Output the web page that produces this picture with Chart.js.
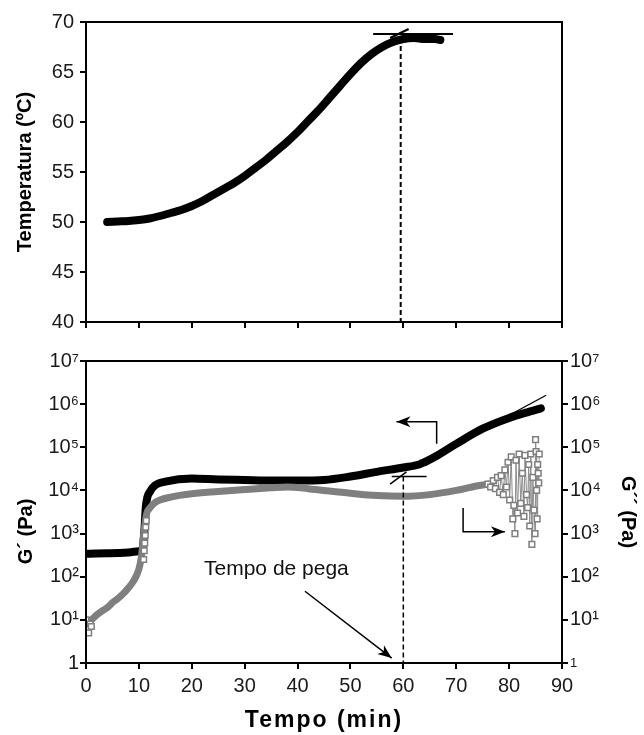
<!DOCTYPE html>
<html>
<head>
<meta charset="utf-8">
<title>Temperatura, G´ e G´´ x Tempo</title>
<script src="https://cdn.jsdelivr.net/npm/chart.js@4.4.1/dist/chart.umd.min.js"></script>
<style>
  body { margin: 0; background: #fff; }
  .wrap { position: relative; width: 644px; height: 735px; }
  #tempChart { position: absolute; left: 0; top: 0; }
  #modChart { position: absolute; left: 0; top: 340px; }
</style>
</head>
<body>
<div class="wrap">
  <canvas id="tempChart" width="644" height="340"></canvas>
  <canvas id="modChart" width="644" height="395"></canvas>
</div>
<script>
/* Data start */

const timeTicks = [0, 10, 20, 30, 40, 50, 60, 70, 80, 90]
const logTicks = [1, 10, 100, 1000, 10000, 100000, 1000000, 10000000]
const logTickLabels = ['1', '10¹', '10²', '10³', '10⁴', '10⁵', '10⁶', '10⁷']

// temperature (top panel)
const tempTime = [4, 6, 8, 10, 12, 14, 16, 18, 20, 22, 24, 26, 28, 30, 32, 34, 36, 38, 40, 42, 44, 46, 48, 50, 52, 54, 56, 58, 60, 62, 64, 66, 67]
const tempValue = [50.0, 50.05, 50.1, 50.2, 50.35, 50.6, 50.9, 51.2, 51.6, 52.1, 52.7, 53.3, 53.9, 54.6, 55.4, 56.2, 57.1, 58.0, 59.0, 60.1, 61.2, 62.4, 63.6, 64.8, 65.9, 66.8, 67.5, 68.0, 68.3, 68.4, 68.3, 68.3, 68.2]

// G' (storage modulus)
const gpTime = [0, 2, 4, 6, 8, 10, 10.6, 11.0, 11.3, 11.6, 12, 13, 15, 20, 25, 30, 35, 40, 45, 50, 55, 60, 63, 64, 66, 70, 75, 80, 84, 86]
const gpValue = [340, 345, 350, 355, 365, 390, 420, 1000, 4000, 7000, 9000, 13000, 16000, 19000, 18000, 17500, 17000, 17000, 17500, 21000, 27000, 34000, 40000, 45000, 60000, 120000, 270000, 480000, 680000, 800000]

// G'' (loss modulus), dense part
const gppTime = [0, 1, 2, 3, 4, 5, 6, 7, 8, 9, 10, 10.5, 11, 11.5, 12, 13, 14, 16, 18, 20, 25, 30, 35, 38, 42, 45, 50, 55, 60, 65, 70, 73, 76]
const gppValue = [9, 10, 13, 16, 19, 25, 31, 40, 55, 80, 150, 300, 1200, 3000, 3800, 5200, 6000, 7000, 7800, 8400, 9500, 10500, 11500, 12000, 11000, 10000, 8600, 7600, 7300, 8000, 10000, 12000, 14000]

// G'' single squares at the start and at the jump
const gppDotTime = [0, 0.2, 0.5, 0.8, 1.0, 10.9, 11.0, 11.1, 11.2, 11.3, 11.4]
const gppDotValue = [10, 6, 5, 8, 7, 250, 400, 600, 900, 1400, 2000]

// G'' scattered tail
const tailTime = [76.0, 76.5, 77.0, 77.4, 77.8, 78.2, 78.5, 78.9, 79.2, 79.5, 79.8, 80.1, 80.4, 80.7, 80.9, 81.1, 81.3, 81.6, 81.9, 82.2, 82.5, 82.8, 83.0, 83.3, 83.5, 83.7, 83.9, 84.1, 84.3, 84.5, 84.7, 84.9, 85.0, 85.1, 85.2, 85.3, 85.4, 85.5, 85.6, 85.7]
const tailValue = [14000, 12000, 17000, 11000, 20000, 9000, 22000, 8000, 30000, 12000, 45000, 6000, 60000, 2200, 4500, 1000, 50000, 3000, 70000, 5000, 25000, 2500, 65000, 8000, 4000, 40000, 1500, 70000, 560, 20000, 3500, 1000, 150000, 80000, 10000, 2200, 40000, 25000, 15000, 70000]

// guide lines (top panel)
const topFlatTime = [54.3, 69.4]
const topFlatValue = [68.8, 68.8]
const topSlantTime = [57.5, 61]
const topSlantValue = [68.4, 69.3]
const topDashTime = [59.5, 59.5]
const topDashValue = [68.4, 40]

// guide lines (bottom panel)
const tangentTime = [70, 87]
const tangentValue = [120000, 1600000]
const gelFlatTime = [57.8, 64.4]
const gelFlatValue = [21000, 21000]
const gelSlantTime = [57.5, 60.6]
const gelSlantValue = [14000, 27000]
const gelDashTime = [60, 60]
const gelDashValue = [21000, 1]
const leftArrowTime = [66.3, 66.3, 58.7]
const leftArrowValue = [120000, 390000, 390000]
const rightArrowTime = [71.3, 71.3, 79.2]
const rightArrowValue = [3900, 1100, 1100]
const noteArrowTime = [41.4, 57.8]
const noteArrowValue = [46, 1.3]
const noteText = 'Tempo de pega'
const noteTime = 36
const noteValue = 150

/* Data end */

Chart.defaults.font.family = '"Liberation Sans", Arial, sans-serif'
Chart.defaults.color = '#1a1a1a'

const xy = (xs, ys) => xs.map((x, i) => ({ x: x, y: ys[i] }))

const guide = (xs, ys, extra) => Object.assign({
  data: xy(xs, ys),
  showLine: true,
  pointRadius: 0,
  borderColor: '#000',
  borderWidth: 1.5,
  order: 0
}, extra)

/* Plugins */

const boxPlugin = {
  id: 'box',
  afterDatasetsDraw(chart) {
    const a = chart.chartArea
    const ctx = chart.ctx
    ctx.save()
    ctx.strokeStyle = '#000'
    ctx.lineWidth = 2
    ctx.strokeRect(a.left, a.top, a.right - a.left, a.bottom - a.top)
    ctx.restore()
  }
}

const arrowPlugin = {
  id: 'arrows',
  afterDatasetsDraw(chart) {
    const ctx = chart.ctx
    chart.data.datasets.forEach((ds, i) => {
      if (!ds.arrowEnd) return
      const pts = chart.getDatasetMeta(i).data
      const p1 = pts[pts.length - 2]
      const p2 = pts[pts.length - 1]
      const ang = Math.atan2(p2.y - p1.y, p2.x - p1.x)
      ctx.save()
      ctx.translate(p2.x, p2.y)
      ctx.rotate(ang)
      ctx.beginPath()
      ctx.moveTo(0, 0)
      ctx.lineTo(-14, -5.5)
      ctx.lineTo(-10, 0)
      ctx.lineTo(-14, 5.5)
      ctx.closePath()
      ctx.fillStyle = '#000'
      ctx.fill()
      ctx.restore()
    })
  }
}

const notePlugin = {
  id: 'note',
  afterDatasetsDraw(chart) {
    const ctx = chart.ctx
    const x = chart.scales.x.getPixelForValue(noteTime)
    const y = chart.scales.y.getPixelForValue(noteValue)
    ctx.save()
    ctx.font = '21px "Liberation Sans", Arial, sans-serif'
    ctx.fillStyle = '#111'
    ctx.textAlign = 'center'
    ctx.textBaseline = 'middle'
    ctx.fillText(noteText, x, y)
    ctx.restore()
  }
}

// the x title in the original is spaced out a bit
const spacedTitlePlugin = {
  id: 'spacedTitle',
  beforeDraw(chart) {
    const xs = chart.scales.x
    if (xs._spaced) return
    const orig = xs.drawTitle.bind(xs)
    xs.drawTitle = function () {
      this.ctx.save()
      this.ctx.letterSpacing = '2px'
      orig()
      this.ctx.restore()
    }
    xs._spaced = true
  }
}

const outTicks = { drawOnChartArea: false, drawTicks: true, tickLength: 6, color: '#000', lineWidth: 2 }
const blackBorder = { display: true, color: '#000', width: 2 }

/* Top chart: temperature */

new Chart(document.getElementById('tempChart'), {
  type: 'scatter',
  data: {
    datasets: [
      {
        data: xy(tempTime, tempValue),
        showLine: true,
        pointRadius: 0,
        borderColor: '#000',
        borderWidth: 8,
        borderCapStyle: 'round',
        cubicInterpolationMode: 'monotone',
        order: 2
      },
      guide(topFlatTime, topFlatValue, { borderWidth: 2 }),
      guide(topSlantTime, topSlantValue, { borderWidth: 2 }),
      guide(topDashTime, topDashValue, { borderWidth: 2, borderDash: [5, 3] })
    ]
  },
  options: {
    responsive: false,
    animation: false,
    devicePixelRatio: 1,
    layout: { padding: { top: 22, right: 82, left: 0, bottom: 0 } },
    plugins: { legend: { display: false }, tooltip: { enabled: false } },
    scales: {
      x: {
        type: 'linear',
        min: 0,
        max: 90,
        afterBuildTicks: axis => { axis.ticks = timeTicks.map(v => ({ value: v })) },
        ticks: { callback: () => '' },
        grid: outTicks,
        border: blackBorder,
        afterFit: s => { s.height = 18 }
      },
      y: {
        min: 40,
        max: 70,
        ticks: { stepSize: 5, font: { size: 20 }, padding: 6 },
        grid: outTicks,
        border: blackBorder,
        title: {
          display: true,
          text: 'Temperatura (ºC)',
          font: { size: 20, weight: 'bold' },
          color: '#000',
          padding: { top: 13, bottom: 0 }
        },
        afterFit: s => { s.width = 86 }
      }
    }
  },
  plugins: [boxPlugin]
})

/* Bottom chart: G' and G'' */

const logAxis = (side) => ({
  type: 'logarithmic',
  position: side,
  min: 1,
  max: 10000000,
  afterBuildTicks: axis => { axis.ticks = logTicks.map(v => ({ value: v })) },
  ticks: {
    callback: (v, i) => logTickLabels[i],
    font: ctx => ({ size: (side === 'right' && ctx.index === 0) ? 13 : 20 }),
    padding: side === 'right' ? 2 : 1,
    autoSkip: false
  },
  grid: outTicks,
  border: blackBorder,
  title: {
    display: true,
    text: side === 'left' ? 'G´ (Pa)\u00a0\u00a0\u00a0\u00a0\u00a0\u00a0\u00a0' : 'G´´ (Pa)',
    font: { size: 20, weight: 'bold' },
    color: '#000',
    padding: { top: side === 'left' ? 14 : 4, bottom: 0 }
  },
  afterFit: s => { s.width = side === 'left' ? 86 : 82 }
})

new Chart(document.getElementById('modChart'), {
  type: 'scatter',
  data: {
    datasets: [
      {
        data: xy(gpTime, gpValue),
        showLine: true,
        pointRadius: 0,
        borderColor: '#000',
        borderWidth: 8,
        borderCapStyle: 'round',
        cubicInterpolationMode: 'monotone',
        yAxisID: 'y',
        order: 4
      },
      {
        data: xy(gppTime, gppValue),
        showLine: true,
        pointRadius: 0,
        borderColor: '#7f7f7f',
        borderWidth: 7,
        borderCapStyle: 'round',
        cubicInterpolationMode: 'monotone',
        yAxisID: 'y2',
        order: 3
      },
      {
        data: xy(gppDotTime, gppDotValue),
        showLine: false,
        pointStyle: 'rect',
        pointRadius: 4,
        pointBackgroundColor: '#fff',
        pointBorderColor: '#7f7f7f',
        pointBorderWidth: 1.5,
        yAxisID: 'y2',
        order: 2
      },
      {
        data: xy(tailTime, tailValue),
        showLine: true,
        borderColor: '#8c8c8c',
        borderWidth: 1,
        pointStyle: 'rect',
        pointRadius: 4,
        pointBackgroundColor: '#fff',
        pointBorderColor: '#7f7f7f',
        pointBorderWidth: 1.5,
        yAxisID: 'y2',
        order: 2
      },
      guide(tangentTime, tangentValue, { borderWidth: 1.2 }),
      guide(gelFlatTime, gelFlatValue),
      guide(gelSlantTime, gelSlantValue),
      guide(gelDashTime, gelDashValue, { borderWidth: 1.5, borderDash: [5, 3] }),
      guide(leftArrowTime, leftArrowValue, { arrowEnd: true }),
      guide(rightArrowTime, rightArrowValue, { arrowEnd: true }),
      guide(noteArrowTime, noteArrowValue, { arrowEnd: true })
    ]
  },
  options: {
    responsive: false,
    animation: false,
    devicePixelRatio: 1,
    layout: { padding: { top: 21, right: 0, left: 0, bottom: 0 } },
    plugins: { legend: { display: false }, tooltip: { enabled: false } },
    scales: {
      x: {
        type: 'linear',
        min: 0,
        max: 90,
        afterBuildTicks: axis => { axis.ticks = timeTicks.map(v => ({ value: v })) },
        ticks: { font: { size: 20 }, padding: 5 },
        grid: outTicks,
        border: blackBorder,
        title: {
          display: true,
          text: 'Tempo (min)',
          font: { size: 23, weight: 'bold' },
          color: '#000',
          padding: { top: 0, bottom: 1 }
        },
        afterFit: s => { s.height = 72 }
      },
      y: logAxis('left'),
      y2: logAxis('right')
    }
  },
  plugins: [boxPlugin, arrowPlugin, notePlugin, spacedTitlePlugin]
})
</script>
</body>
</html>
